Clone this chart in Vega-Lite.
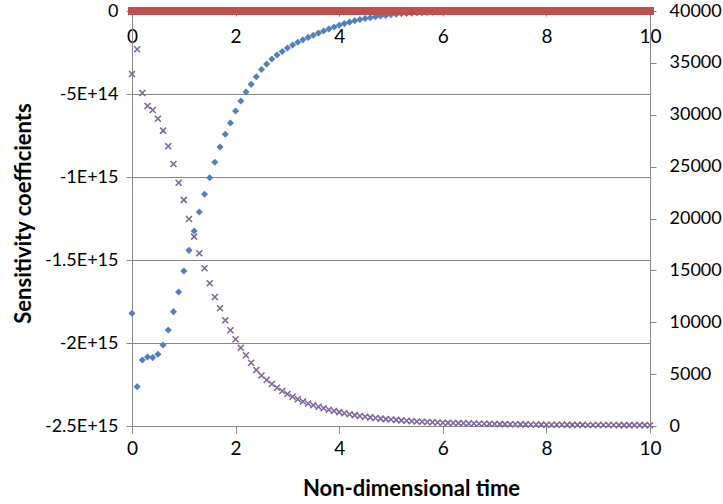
{
  "$schema": "https://vega.github.io/schema/vega-lite/v6.json",
  "width": 518,
  "height": 415,
  "autosize": {"type": "none"},
  "padding": {"left": 132, "top": 11, "right": 73, "bottom": 78},
  "background": "white",
  "config": {
    "view": {"stroke": null},
    "font": "Lato",
    "axis": {
      "domainColor": "#878787",
      "tickColor": "#878787",
      "gridColor": "#878787",
      "labelColor": "#000000",
      "titleColor": "#000000",
      "labelFont": "Lato",
      "titleFont": "Lato",
      "labelFlush": false,
      "labelOverlap": false,
      "labelBound": false
    }
  },
  "datasets": {
    "blue": [
      {"t": 0.0, "v": -1.821e15}, {"t": 0.1, "v": -2.263e15}, {"t": 0.2, "v": -2.102e15}, {"t": 0.3, "v": -2.084e15},
      {"t": 0.4, "v": -2.088e15}, {"t": 0.5, "v": -2.068e15}, {"t": 0.6, "v": -2.012e15}, {"t": 0.7, "v": -1.922e15},
      {"t": 0.8, "v": -1.811e15}, {"t": 0.9, "v": -1.693e15}, {"t": 1.0, "v": -1.566e15}, {"t": 1.1, "v": -1.442e15},
      {"t": 1.2, "v": -1.325e15}, {"t": 1.3, "v": -1.211e15}, {"t": 1.4, "v": -1.104e15}, {"t": 1.5, "v": -1.004e15},
      {"t": 1.6, "v": -9.11e14}, {"t": 1.7, "v": -8.19e14}, {"t": 1.8, "v": -7.43e14}, {"t": 1.9, "v": -6.75e14},
      {"t": 2.0, "v": -6.02e14}, {"t": 2.1, "v": -5.42e14}, {"t": 2.2, "v": -4.88e14}, {"t": 2.3, "v": -4.42e14},
      {"t": 2.4, "v": -3.96e14}, {"t": 2.5, "v": -3.52e14}, {"t": 2.6, "v": -3.19e14}, {"t": 2.7, "v": -2.89e14},
      {"t": 2.8, "v": -2.65e14}, {"t": 2.9, "v": -2.44e14}, {"t": 3.0, "v": -2.23e14}, {"t": 3.1, "v": -2.05e14},
      {"t": 3.2, "v": -1.88e14}, {"t": 3.3, "v": -1.73e14}, {"t": 3.4, "v": -1.59e14}, {"t": 3.5, "v": -1.46e14},
      {"t": 3.6, "v": -1.33e14}, {"t": 3.7, "v": -1.2e14}, {"t": 3.8, "v": -1.08e14}, {"t": 3.9, "v": -9.6e13},
      {"t": 4.0, "v": -8.6e13}, {"t": 4.1, "v": -7.6e13}, {"t": 4.2, "v": -6.7e13}, {"t": 4.3, "v": -5.8e13},
      {"t": 4.4, "v": -5.1e13}, {"t": 4.5, "v": -4.5e13}, {"t": 4.6, "v": -4.0e13}, {"t": 4.7, "v": -3.5e13},
      {"t": 4.8, "v": -3.0e13}, {"t": 4.9, "v": -2.7e13}, {"t": 5.0, "v": -2.3e13}, {"t": 5.1, "v": -2.0e13},
      {"t": 5.2, "v": -1.7e13}, {"t": 5.3, "v": -1.5e13}, {"t": 5.4, "v": -1.3e13}, {"t": 5.5, "v": -1.1e13},
      {"t": 5.6, "v": -9.6e12}, {"t": 5.7, "v": -8.4e12}, {"t": 5.8, "v": -7.2e12}, {"t": 5.9, "v": -6.0e12},
      {"t": 6.0, "v": -5.4e12}, {"t": 6.1, "v": -4.8e12}, {"t": 6.2, "v": -4.2e12}, {"t": 6.3, "v": -3.7e12},
      {"t": 6.4, "v": -3.3e12}, {"t": 6.5, "v": -2.9e12}, {"t": 6.6, "v": -2.6e12}, {"t": 6.7, "v": -2.3e12},
      {"t": 6.8, "v": -2.0e12}, {"t": 6.9, "v": -1.8e12}, {"t": 7.0, "v": -1.6e12}, {"t": 7.1, "v": -1.4e12},
      {"t": 7.2, "v": -1.2e12}, {"t": 7.3, "v": -1.1e12}, {"t": 7.4, "v": -1.0e12}, {"t": 7.5, "v": -9e11},
      {"t": 7.6, "v": -8e11}, {"t": 7.7, "v": -7e11}, {"t": 7.8, "v": -6e11}, {"t": 7.9, "v": -5.5e11},
      {"t": 8.0, "v": -5e11}, {"t": 8.1, "v": -4.5e11}, {"t": 8.2, "v": -4e11}, {"t": 8.3, "v": -3.6e11},
      {"t": 8.4, "v": -3.2e11}, {"t": 8.5, "v": -2.9e11}, {"t": 8.6, "v": -2.6e11}, {"t": 8.7, "v": -2.3e11},
      {"t": 8.8, "v": -2e11}, {"t": 8.9, "v": -1.8e11}, {"t": 9.0, "v": -1.6e11}, {"t": 9.1, "v": -1.4e11},
      {"t": 9.2, "v": -1.3e11}, {"t": 9.3, "v": -1.2e11}, {"t": 9.4, "v": -1.1e11}, {"t": 9.5, "v": -1e11},
      {"t": 9.6, "v": -9e10}, {"t": 9.7, "v": -8e10}, {"t": 9.8, "v": -7e10}, {"t": 9.9, "v": -6e10},
      {"t": 10.0, "v": -5e10}
    ],
    "red": [
      {"t": 0.0, "v": 0}, {"t": 0.1, "v": 0}, {"t": 0.2, "v": 0}, {"t": 0.3, "v": 0}, {"t": 0.4, "v": 0},
      {"t": 0.5, "v": 0}, {"t": 0.6, "v": 0}, {"t": 0.7, "v": 0}, {"t": 0.8, "v": 0}, {"t": 0.9, "v": 0},
      {"t": 1.0, "v": 0}, {"t": 1.1, "v": 0}, {"t": 1.2, "v": 0}, {"t": 1.3, "v": 0}, {"t": 1.4, "v": 0},
      {"t": 1.5, "v": 0}, {"t": 1.6, "v": 0}, {"t": 1.7, "v": 0}, {"t": 1.8, "v": 0}, {"t": 1.9, "v": 0},
      {"t": 2.0, "v": 0}, {"t": 2.1, "v": 0}, {"t": 2.2, "v": 0}, {"t": 2.3, "v": 0}, {"t": 2.4, "v": 0},
      {"t": 2.5, "v": 0}, {"t": 2.6, "v": 0}, {"t": 2.7, "v": 0}, {"t": 2.8, "v": 0}, {"t": 2.9, "v": 0},
      {"t": 3.0, "v": 0}, {"t": 3.1, "v": 0}, {"t": 3.2, "v": 0}, {"t": 3.3, "v": 0}, {"t": 3.4, "v": 0},
      {"t": 3.5, "v": 0}, {"t": 3.6, "v": 0}, {"t": 3.7, "v": 0}, {"t": 3.8, "v": 0}, {"t": 3.9, "v": 0},
      {"t": 4.0, "v": 0}, {"t": 4.1, "v": 0}, {"t": 4.2, "v": 0}, {"t": 4.3, "v": 0}, {"t": 4.4, "v": 0},
      {"t": 4.5, "v": 0}, {"t": 4.6, "v": 0}, {"t": 4.7, "v": 0}, {"t": 4.8, "v": 0}, {"t": 4.9, "v": 0},
      {"t": 5.0, "v": 0}, {"t": 5.1, "v": 0}, {"t": 5.2, "v": 0}, {"t": 5.3, "v": 0}, {"t": 5.4, "v": 0},
      {"t": 5.5, "v": 0}, {"t": 5.6, "v": 0}, {"t": 5.7, "v": 0}, {"t": 5.8, "v": 0}, {"t": 5.9, "v": 0},
      {"t": 6.0, "v": 0}, {"t": 6.1, "v": 0}, {"t": 6.2, "v": 0}, {"t": 6.3, "v": 0}, {"t": 6.4, "v": 0},
      {"t": 6.5, "v": 0}, {"t": 6.6, "v": 0}, {"t": 6.7, "v": 0}, {"t": 6.8, "v": 0}, {"t": 6.9, "v": 0},
      {"t": 7.0, "v": 0}, {"t": 7.1, "v": 0}, {"t": 7.2, "v": 0}, {"t": 7.3, "v": 0}, {"t": 7.4, "v": 0},
      {"t": 7.5, "v": 0}, {"t": 7.6, "v": 0}, {"t": 7.7, "v": 0}, {"t": 7.8, "v": 0}, {"t": 7.9, "v": 0},
      {"t": 8.0, "v": 0}, {"t": 8.1, "v": 0}, {"t": 8.2, "v": 0}, {"t": 8.3, "v": 0}, {"t": 8.4, "v": 0},
      {"t": 8.5, "v": 0}, {"t": 8.6, "v": 0}, {"t": 8.7, "v": 0}, {"t": 8.8, "v": 0}, {"t": 8.9, "v": 0},
      {"t": 9.0, "v": 0}, {"t": 9.1, "v": 0}, {"t": 9.2, "v": 0}, {"t": 9.3, "v": 0}, {"t": 9.4, "v": 0},
      {"t": 9.5, "v": 0}, {"t": 9.6, "v": 0}, {"t": 9.7, "v": 0}, {"t": 9.8, "v": 0}, {"t": 9.9, "v": 0},
      {"t": 10.0, "v": 0}
    ],
    "purple": [
      {"t": 0.0, "v": 33930}, {"t": 0.1, "v": 36310}, {"t": 0.2, "v": 32100}, {"t": 0.3, "v": 30845},
      {"t": 0.4, "v": 30460}, {"t": 0.5, "v": 29620}, {"t": 0.6, "v": 28465}, {"t": 0.7, "v": 26960},
      {"t": 0.8, "v": 25255}, {"t": 0.9, "v": 23450}, {"t": 1.0, "v": 21800}, {"t": 1.1, "v": 19950},
      {"t": 1.2, "v": 18250}, {"t": 1.3, "v": 16645}, {"t": 1.4, "v": 15200}, {"t": 1.5, "v": 13755},
      {"t": 1.6, "v": 12435}, {"t": 1.7, "v": 11345}, {"t": 1.8, "v": 10190}, {"t": 1.9, "v": 9225},
      {"t": 2.0, "v": 8357}, {"t": 2.1, "v": 7547}, {"t": 2.2, "v": 6815}, {"t": 2.3, "v": 6102},
      {"t": 2.4, "v": 5398}, {"t": 2.5, "v": 4868}, {"t": 2.6, "v": 4434}, {"t": 2.7, "v": 4048},
      {"t": 2.8, "v": 3692}, {"t": 2.9, "v": 3374}, {"t": 3.0, "v": 3084}, {"t": 3.1, "v": 2824},
      {"t": 3.2, "v": 2583}, {"t": 3.3, "v": 2362}, {"t": 3.4, "v": 2169}, {"t": 3.5, "v": 2005},
      {"t": 3.6, "v": 1851}, {"t": 3.7, "v": 1706}, {"t": 3.8, "v": 1571}, {"t": 3.9, "v": 1446},
      {"t": 4.0, "v": 1340}, {"t": 4.1, "v": 1234}, {"t": 4.2, "v": 1137}, {"t": 4.3, "v": 1051},
      {"t": 4.4, "v": 964}, {"t": 4.5, "v": 896}, {"t": 4.6, "v": 829}, {"t": 4.7, "v": 771},
      {"t": 4.8, "v": 713}, {"t": 4.9, "v": 665}, {"t": 5.0, "v": 627}, {"t": 5.1, "v": 588},
      {"t": 5.2, "v": 540}, {"t": 5.3, "v": 501}, {"t": 5.4, "v": 463}, {"t": 5.5, "v": 434},
      {"t": 5.6, "v": 405}, {"t": 5.7, "v": 386}, {"t": 5.8, "v": 357}, {"t": 5.9, "v": 337},
      {"t": 6.0, "v": 318}, {"t": 6.1, "v": 304}, {"t": 6.2, "v": 289}, {"t": 6.3, "v": 275},
      {"t": 6.4, "v": 260}, {"t": 6.5, "v": 246}, {"t": 6.6, "v": 236}, {"t": 6.7, "v": 222},
      {"t": 6.8, "v": 212}, {"t": 6.9, "v": 202}, {"t": 7.0, "v": 193}, {"t": 7.1, "v": 186},
      {"t": 7.2, "v": 179}, {"t": 7.3, "v": 173}, {"t": 7.4, "v": 166}, {"t": 7.5, "v": 159},
      {"t": 7.6, "v": 152}, {"t": 7.7, "v": 146}, {"t": 7.8, "v": 139}, {"t": 7.9, "v": 132},
      {"t": 8.0, "v": 125}, {"t": 8.1, "v": 122}, {"t": 8.2, "v": 120}, {"t": 8.3, "v": 117},
      {"t": 8.4, "v": 114}, {"t": 8.5, "v": 111}, {"t": 8.6, "v": 108}, {"t": 8.7, "v": 105},
      {"t": 8.8, "v": 102}, {"t": 8.9, "v": 99}, {"t": 9.0, "v": 96}, {"t": 9.1, "v": 94},
      {"t": 9.2, "v": 93}, {"t": 9.3, "v": 91}, {"t": 9.4, "v": 89}, {"t": 9.5, "v": 87},
      {"t": 9.6, "v": 85}, {"t": 9.7, "v": 83}, {"t": 9.8, "v": 81}, {"t": 9.9, "v": 79},
      {"t": 10.0, "v": 77}
    ]
  },
  "layer": [
    {
      "encoding": {
        "x": {
          "field": "t",
          "type": "quantitative",
          "scale": {"domain": [0, 10], "nice": false, "zero": false},
          "axis": {
            "orient": "bottom",
            "offset": -415,
            "values": [0, 2, 4, 6, 8, 10],
            "title": null,
            "grid": false,
            "domain": true,
            "ticks": true,
            "tickSize": 5,
            "labelFontSize": 19,
            "labelPadding": 11
          }
        },
        "y": {
          "field": "v",
          "type": "quantitative",
          "scale": {"domain": [-2.5e15, 0], "nice": false, "zero": false},
          "axis": {
            "orient": "left",
            "values": [-2.5e15, -2e15, -1.5e15, -1e15, -5e14, 0],
            "labelExpr": "datum.value == 0 ? '0' : datum.value > -6e14 ? '-5E+14' : datum.value > -1.1e15 ? '-1E+15' : datum.value > -1.6e15 ? '-1.5E+15' : datum.value > -2.1e15 ? '-2E+15' : '-2.5E+15'",
            "grid": true,
            "tickSize": 6,
            "labelFontSize": 18,
            "labelPadding": 8,
            "title": "Sensitivity coefficients",
            "titleFontSize": 22,
            "titleFontWeight": "bold",
            "titleAngle": -90,
            "titleAlign": "center",
            "titleBaseline": "alphabetic",
            "titleX": -102,
            "titleY": 202
          }
        }
      },
      "layer": [
        {
          "data": {"name": "blue"},
          "mark": {"type": "point", "shape": "diamond", "filled": true, "size": 50, "color": "#4F81BD", "opacity": 1}
        },
        {
          "data": {"name": "red"},
          "mark": {"type": "point", "shape": "square", "filled": true, "size": 64, "color": "#C0504D", "opacity": 1}
        }
      ]
    },
    {
      "data": {"name": "purple"},
      "mark": {
        "type": "point",
        "shape": "M-1,-1L1,1M-1,1L1,-1",
        "filled": false,
        "size": 36,
        "stroke": "#7E64A0",
        "strokeWidth": 1.6,
        "opacity": 1
      },
      "encoding": {
        "x": {
          "field": "t",
          "type": "quantitative",
          "scale": {"domain": [0, 10], "nice": false, "zero": false},
          "axis": {
            "orient": "bottom",
            "values": [0, 2, 4, 6, 8, 10],
            "grid": false,
            "tickSize": 7,
            "labelFontSize": 19,
            "labelPadding": 6,
            "title": "Non-dimensional time",
            "titleFontSize": 22,
            "titleFontWeight": "bold",
            "titleAlign": "center",
            "titleBaseline": "alphabetic",
            "titleX": 279,
            "titleY": 69
          }
        },
        "y": {
          "field": "v",
          "type": "quantitative",
          "scale": {"domain": [0, 40000], "nice": false, "zero": false},
          "axis": {
            "orient": "right",
            "values": [0, 5000, 10000, 15000, 20000, 25000, 30000, 35000, 40000],
            "format": "d",
            "grid": false,
            "tickSize": 6,
            "labelFontSize": 18,
            "labelPadding": 13,
            "title": null
          }
        }
      }
    }
  ],
  "resolve": {"scale": {"x": "independent", "y": "independent"}}
}
